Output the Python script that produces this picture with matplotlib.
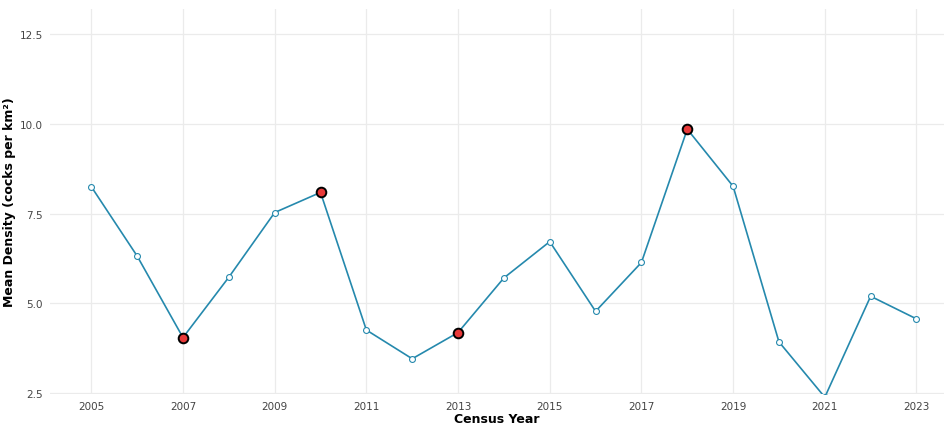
import numpy as np
import matplotlib.pyplot as plt

# yearly census means
years = np.arange(2005, 2024)
density = [8.25, 6.32, 4.05, 5.73, 7.53, 8.09, 4.26, 3.46, 4.19, 5.71,
           6.72, 4.78, 6.14, 9.85, 8.26, 3.93, 2.39, 5.20, 4.57]
highlight_years = [2007, 2010, 2013, 2018]

line_col = '#2589ad'
grid_col = '#ebebeb'

fig = plt.figure(figsize=(9.44, 4.27), dpi=100)
ax = fig.add_axes([0.053, 0.075, 0.947, 0.902])

ax.plot(years, density, color=line_col, lw=1.2, zorder=2)
ax.scatter(years, density, s=18, facecolor='white', edgecolor=line_col,
           linewidth=0.8, zorder=3)
hl = [y in highlight_years for y in years]
ax.scatter(years[hl], np.array(density)[hl], s=48, facecolor='#e83a3a',
           edgecolor='black', linewidth=1.4, zorder=4)

ax.set_xlim(2004.1, 2023.6)
ax.set_ylim(2.48, 13.2)
ax.set_xticks(np.arange(2005, 2024, 2))
ax.set_yticks([2.5, 5.0, 7.5, 10.0, 12.5])
ax.set_yticklabels(['2.5', '5.0', '7.5', '10.0', '12.5'])

ax.grid(True, color=grid_col, lw=0.9)
ax.set_axisbelow(True)
for s in ax.spines.values():
    s.set_visible(False)
ax.tick_params(length=0, labelsize=7.5, labelcolor='#444444', pad=5)

ax.set_xlabel('Census Year', fontsize=9, fontweight='bold', labelpad=1)
ax.set_ylabel('Mean Density (cocks per km²)', fontsize=9, fontweight='bold')
ax.yaxis.set_label_coords(-0.038, 0.5)

fig.savefig('out.png', dpi=100)
